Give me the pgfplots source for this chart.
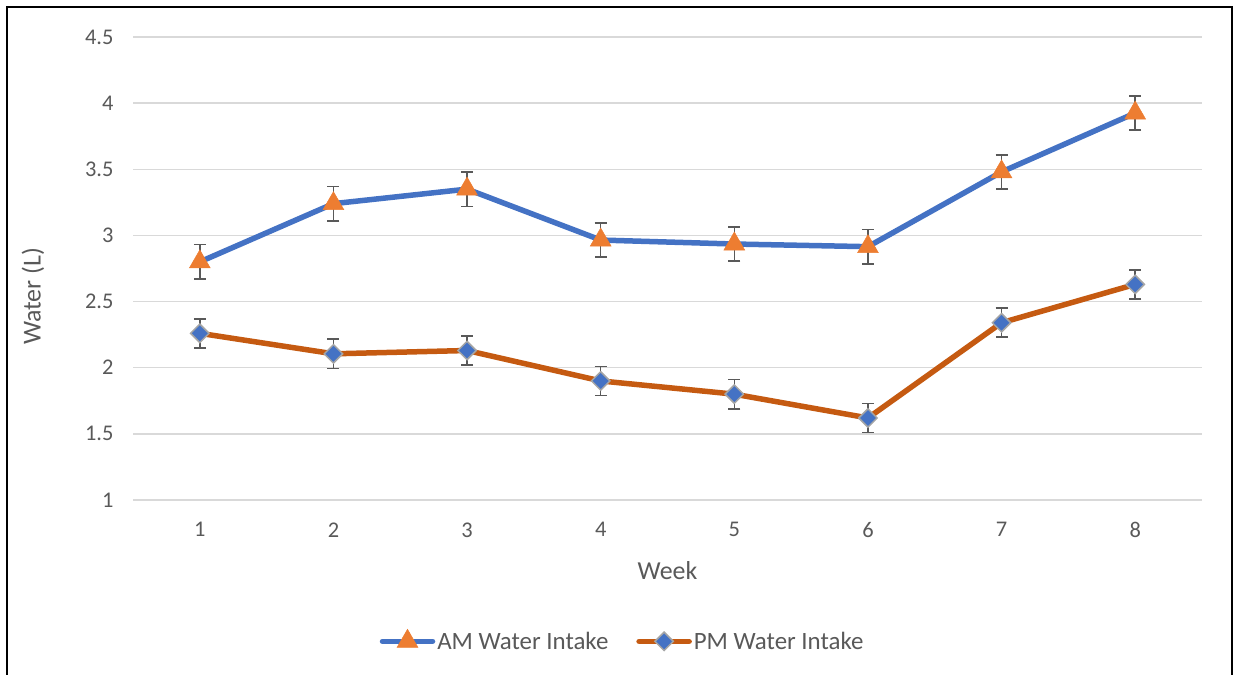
\documentclass[border=0pt]{standalone}
\usepackage{pgfplots}
\pgfplotsset{compat=1.18}
\usepackage{fontspec}
\setmainfont{Carlito}
\definecolor{amblue}{HTML}{4472C4}
\definecolor{amorange}{HTML}{ED7D31}
\definecolor{pmline}{HTML}{C55A11}
\definecolor{txtgray}{HTML}{595959}
\definecolor{gridgray}{HTML}{D9D9D9}
\definecolor{diaedge}{HTML}{A5A5A5}
\begin{document}
\begin{tikzpicture}[x=1bp,y=1bp]
\path (0,0) rectangle (1237,675);
\draw[black, line width=2bp] (6.5,0) -- (6.5,667.5) -- (1231.5,667.5) -- (1231.5,0);
\begin{axis}[
  at={(133bp,175bp)}, anchor=south west,
  width=1069bp, height=463bp, scale only axis,
  xmin=0.5, xmax=8.5, ymin=1, ymax=4.5,
  xtick={1,...,8}, ytick={1,1.5,...,4.5},
  /pgf/number format/assume math mode=true,
  axis line style={draw=none},
  tick style={draw=none},
  ymajorgrids, grid style={gridgray, line width=1.3bp},
  ticklabel style={font=\fontsize{22.5}{26}\selectfont, text=txtgray},
  yticklabel style={xshift=-16bp},
  xticklabel style={yshift=-19bp},
  xlabel={Week}, ylabel={Water (L)},
  label style={font=\fontsize{26}{30}\selectfont, text=txtgray},
  xlabel style={at={(axis description cs:0.5,-0.153)}, anchor=center},
  ylabel style={at={(axis description cs:-0.0935,0.44)}, anchor=center},
  legend columns=2,
  legend style={at={(axis description cs:0.458,-0.3045)}, anchor=center, draw=none,
    font=\fontsize{25}{28}\selectfont, text=txtgray,
    /tikz/every even column/.append style={column sep=26bp}},
  legend image code/.code={
    \draw[#1, mark=none, line cap=round] (0bp,0bp) -- (50bp,0bp);
    \path[#1, draw=none] plot coordinates {(25bp,0bp)};
  },
  clip=false,
]
\addplot[amblue, line width=5.5bp, mark=triangle*, mark size=12bp,
  mark options={fill=amorange, draw=amorange, line width=0.5bp},
  error bars/.cd, y dir=both, y explicit,
  error bar style={txtgray, line width=1.6bp},
  error mark options={rotate=90, mark size=6bp, txtgray, line width=1.6bp}]
coordinates {
(1,2.80) +- (0,0.13)
(2,3.24) +- (0,0.13)
(3,3.35) +- (0,0.13)
(4,2.965) +- (0,0.13)
(5,2.935) +- (0,0.13)
(6,2.915) +- (0,0.13)
(7,3.48) +- (0,0.13)
(8,3.925) +- (0,0.13)
};
\addlegendentry{AM Water Intake}
\addplot[pmline, line width=5.5bp, mark=square*, mark size=6.5bp,
  mark options={fill=amblue, draw=diaedge, line width=1.5bp, rotate=45},
  error bars/.cd, y dir=both, y explicit,
  error bar style={txtgray, line width=1.6bp},
  error mark options={rotate=90, mark size=6bp, txtgray, line width=1.6bp}]
coordinates {
(1,2.26) +- (0,0.11)
(2,2.105) +- (0,0.11)
(3,2.13) +- (0,0.11)
(4,1.90) +- (0,0.11)
(5,1.80) +- (0,0.11)
(6,1.62) +- (0,0.11)
(7,2.34) +- (0,0.11)
(8,2.63) +- (0,0.11)
};
\addlegendentry{PM Water Intake}
\end{axis}
\end{tikzpicture}
\end{document}
